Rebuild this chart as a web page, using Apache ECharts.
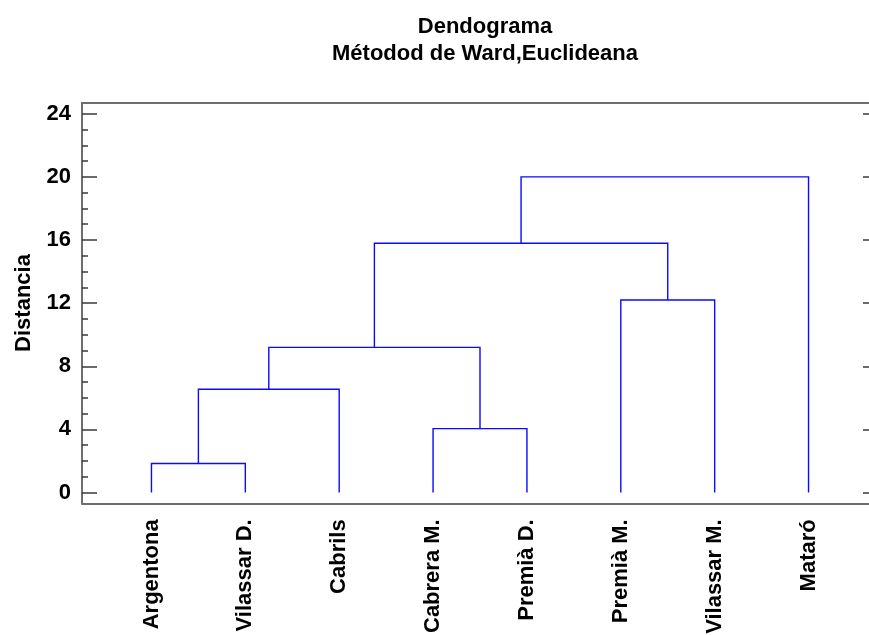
<!DOCTYPE html>
<html>
<head>
<meta charset="utf-8">
<script src="https://cdn.jsdelivr.net/npm/echarts@6/dist/echarts.min.js"></script>
<style>
  html, body { margin: 0; padding: 0; background: #fff; }
  #chart { width: 869px; height: 635px; }
</style>
</head>
<body>
<div id="chart"></div>
<script>
// Leaf labels in dendrogram order (left to right)
const leaves = ['Argentona', 'Vilassar D.', 'Cabrils', 'Cabrera M.', 'Premià D.', 'Premià M.', 'Vilassar M.', 'Mataró'];

// Ward linkage: node ids 0..7 are leaves, merge k creates node 8+k
const mergeLeft  = [0, 8, 3,  9, 5, 11, 13];
const mergeRight = [1, 2, 4, 10, 6, 12,  7];
const mergeHeight = [1.84, 6.55, 4.05, 9.2, 12.2, 15.8, 20.0];

// Distance axis ticks
const majorTicks = [0, 4, 8, 12, 16, 20, 24];
const minorTicks = [1, 2, 3, 5, 6, 7, 9, 10, 11, 13, 14, 15, 17, 18, 19, 21, 22, 23];

// Resolve node positions: leaves sit at 1..n, merged nodes at the midpoint of their children
const nodeX = leaves.map((_, i) => i + 1);
const nodeH = leaves.map(() => 0);
const links = [];
mergeLeft.forEach((a, k) => {
  const b = mergeRight[k];
  const h = mergeHeight[k];
  links.push([nodeX[a], nodeH[a], nodeX[b], nodeH[b], h]);
  nodeX.push((nodeX[a] + nodeX[b]) / 2);
  nodeH.push(h);
});

const FONT = "'Liberation Sans', Arial, sans-serif";
const AXIS_GRAY = '#6e6e6e';
const TICK_GRAY = '#3a3a3a';
const xMin = 0.26, xMax = 8.74;
const yMin = -0.68, yMax = 24.7;

const chart = echarts.init(document.getElementById('chart'), null, { renderer: 'canvas' });

chart.setOption({
  backgroundColor: '#ffffff',
  animation: false,
  title: {
    text: 'Dendograma\nMétodod de Ward,Euclideana',
    left: 480,
    top: 8,
    textAlign: 'center',
    textStyle: { fontFamily: FONT, fontWeight: 'bold', fontSize: 22, lineHeight: 27, color: '#000' }
  },
  grid: { left: 82, width: 796, top: 102.7, height: 400.6, containLabel: false, outerBoundsMode: 'none' },
  xAxis: [
    {
      type: 'value', position: 'bottom', min: xMin, max: xMax,
      axisLine: { show: true, onZero: false, lineStyle: { color: AXIS_GRAY, width: 2 } },
      axisTick: { show: false },
      splitLine: { show: false },
      axisLabel: {
        customValues: leaves.map((_, i) => i + 1),
        formatter: v => leaves[Math.round(v) - 1] || '',
        rotate: 90, margin: 16,
        fontFamily: FONT, fontWeight: 'bold', fontSize: 22, color: '#000'
      }
    },
    {
      type: 'value', position: 'top', min: xMin, max: xMax,
      axisLine: { show: true, onZero: false, lineStyle: { color: AXIS_GRAY, width: 2 } },
      axisTick: { show: false }, axisLabel: { show: false }, splitLine: { show: false }
    }
  ],
  yAxis: [
    {
      type: 'value', position: 'left', min: yMin, max: yMax,
      name: 'Distancia', nameLocation: 'middle', nameGap: 47,
      nameTextStyle: { fontFamily: FONT, fontWeight: 'bold', fontSize: 22, color: '#000' },
      axisLine: { show: true, onZero: false, lineStyle: { color: AXIS_GRAY, width: 2 } },
      axisTick: { show: true, inside: true, length: 15, customValues: majorTicks, lineStyle: { color: TICK_GRAY, width: 1.5 } },
      axisLabel: { customValues: majorTicks, margin: 11, fontFamily: FONT, fontWeight: 'bold', fontSize: 22, color: '#000' },
      splitLine: { show: false }
    },
    {
      type: 'value', position: 'left', min: yMin, max: yMax,
      axisLine: { show: false, onZero: false },
      axisTick: { show: true, inside: true, length: 6, customValues: minorTicks, lineStyle: { color: TICK_GRAY, width: 1.5 } },
      axisLabel: { show: false }, splitLine: { show: false }
    },
    {
      type: 'value', position: 'right', min: yMin, max: yMax,
      axisLine: { show: true, onZero: false, lineStyle: { color: AXIS_GRAY, width: 2 } },
      axisTick: { show: true, inside: true, length: 15, customValues: majorTicks, lineStyle: { color: TICK_GRAY, width: 1.5 } },
      axisLabel: { show: false }, splitLine: { show: false }
    }
  ],
  series: [
    {
      type: 'custom',
      xAxisIndex: 0, yAxisIndex: 0,
      data: links,
      renderItem: (params, api) => {
        const p1 = api.coord([api.value(0), api.value(1)]);
        const p2 = api.coord([api.value(0), api.value(4)]);
        const p3 = api.coord([api.value(2), api.value(4)]);
        const p4 = api.coord([api.value(2), api.value(3)]);
        return {
          type: 'polyline',
          shape: { points: [p1, p2, p3, p4] },
          style: { stroke: '#0a0aff', lineWidth: 1.4, fill: null }
        };
      }
    }
  ]
});
</script>
</body>
</html>
